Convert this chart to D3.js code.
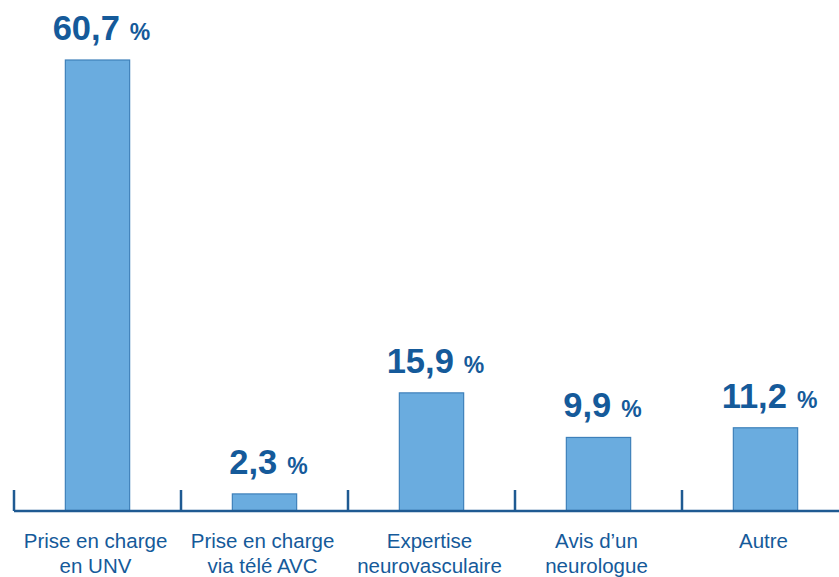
<!DOCTYPE html>
<html>
<head>
<meta charset="utf-8">
<script src="https://cdn.jsdelivr.net/npm/d3@7"></script>
<style>
  body { margin: 0; background: #fff; }
  text { font-family: "Liberation Sans", Arial, Helvetica, sans-serif; }
</style>
</head>
<body>
<div id="chart"></div>
<script>
// data
var categories = ["Prise en charge\nen UNV", "Prise en charge\nvia télé AVC", "Expertise\nneurovasculaire", "Avis d\u2019un\nneurologue", "Autre"]
var values = [60.7, 2.3, 15.9, 9.9, 11.2]
var valueLabels = ["60,7", "2,3", "15,9", "9,9", "11,2"]

var width = 839, height = 577
var baseY = 511
var textColor = "#155a9a"

var svg = d3.select("#chart").append("svg")
    .attr("width", width)
    .attr("height", height)

/* Scale */
var xScale = d3.scaleBand()
    .domain(categories)
    .range([14, 14 + 167 * categories.length])
    .padding(0)

var yScale = d3.scaleLinear()
    .domain([0, 60.7])
    .range([baseY, 60])

var barW = xScale.bandwidth() * 0.385

// bars
svg.append("g").selectAll("rect")
    .data(values).enter()
    .append("rect")
    .attr("x", (d, i) => xScale(categories[i]) + xScale.bandwidth() / 2 - barW / 2)
    .attr("y", d => yScale(d))
    .attr("width", barW)
    .attr("height", d => baseY - yScale(d))
    .style("fill", "#6aacdf")
    .style("stroke", "#3e80ba")
    .style("stroke-width", 1.2)

// value labels
var lbl = svg.append("g").selectAll("text")
    .data(values).enter()
    .append("text")
    .attr("x", (d, i) => xScale(categories[i]) + xScale.bandwidth() / 2 + 4)
    .attr("y", d => yScale(d) - 20)
    .attr("text-anchor", "middle")
    .style("fill", textColor)
    .style("font-weight", "bold")
lbl.append("tspan")
    .style("font-size", "34.5px")
    .text((d, i) => valueLabels[i])
lbl.append("tspan")
    .attr("dx", 10)
    .style("font-size", "23px")
    .text("%")

// axis line + ticks
svg.append("line")
    .attr("x1", 14).attr("x2", width)
    .attr("y1", baseY).attr("y2", baseY)
    .style("stroke", "#1f5a92")
    .style("stroke-width", 2.5)

svg.append("g").selectAll("line")
    .data(categories).enter()
    .append("line")
    .attr("x1", d => xScale(d)).attr("x2", d => xScale(d))
    .attr("y1", baseY).attr("y2", baseY - 21)
    .style("stroke", "#1f5a92")
    .style("stroke-width", 2.5)

// category labels
var cat = svg.append("g").selectAll("text")
    .data(categories).enter()
    .append("text")
    .attr("text-anchor", "middle")
    .style("fill", textColor)
    .style("font-size", "20.5px")
cat.selectAll("tspan")
    .data(d => d.split("\n").map(s => ({s: s, c: d}))).enter()
    .append("tspan")
    .attr("x", d => xScale(d.c) + xScale.bandwidth() / 2 - 2)
    .attr("y", (d, i) => 548 + i * 25)
    .text(d => d.s)
</script>
</body>
</html>
